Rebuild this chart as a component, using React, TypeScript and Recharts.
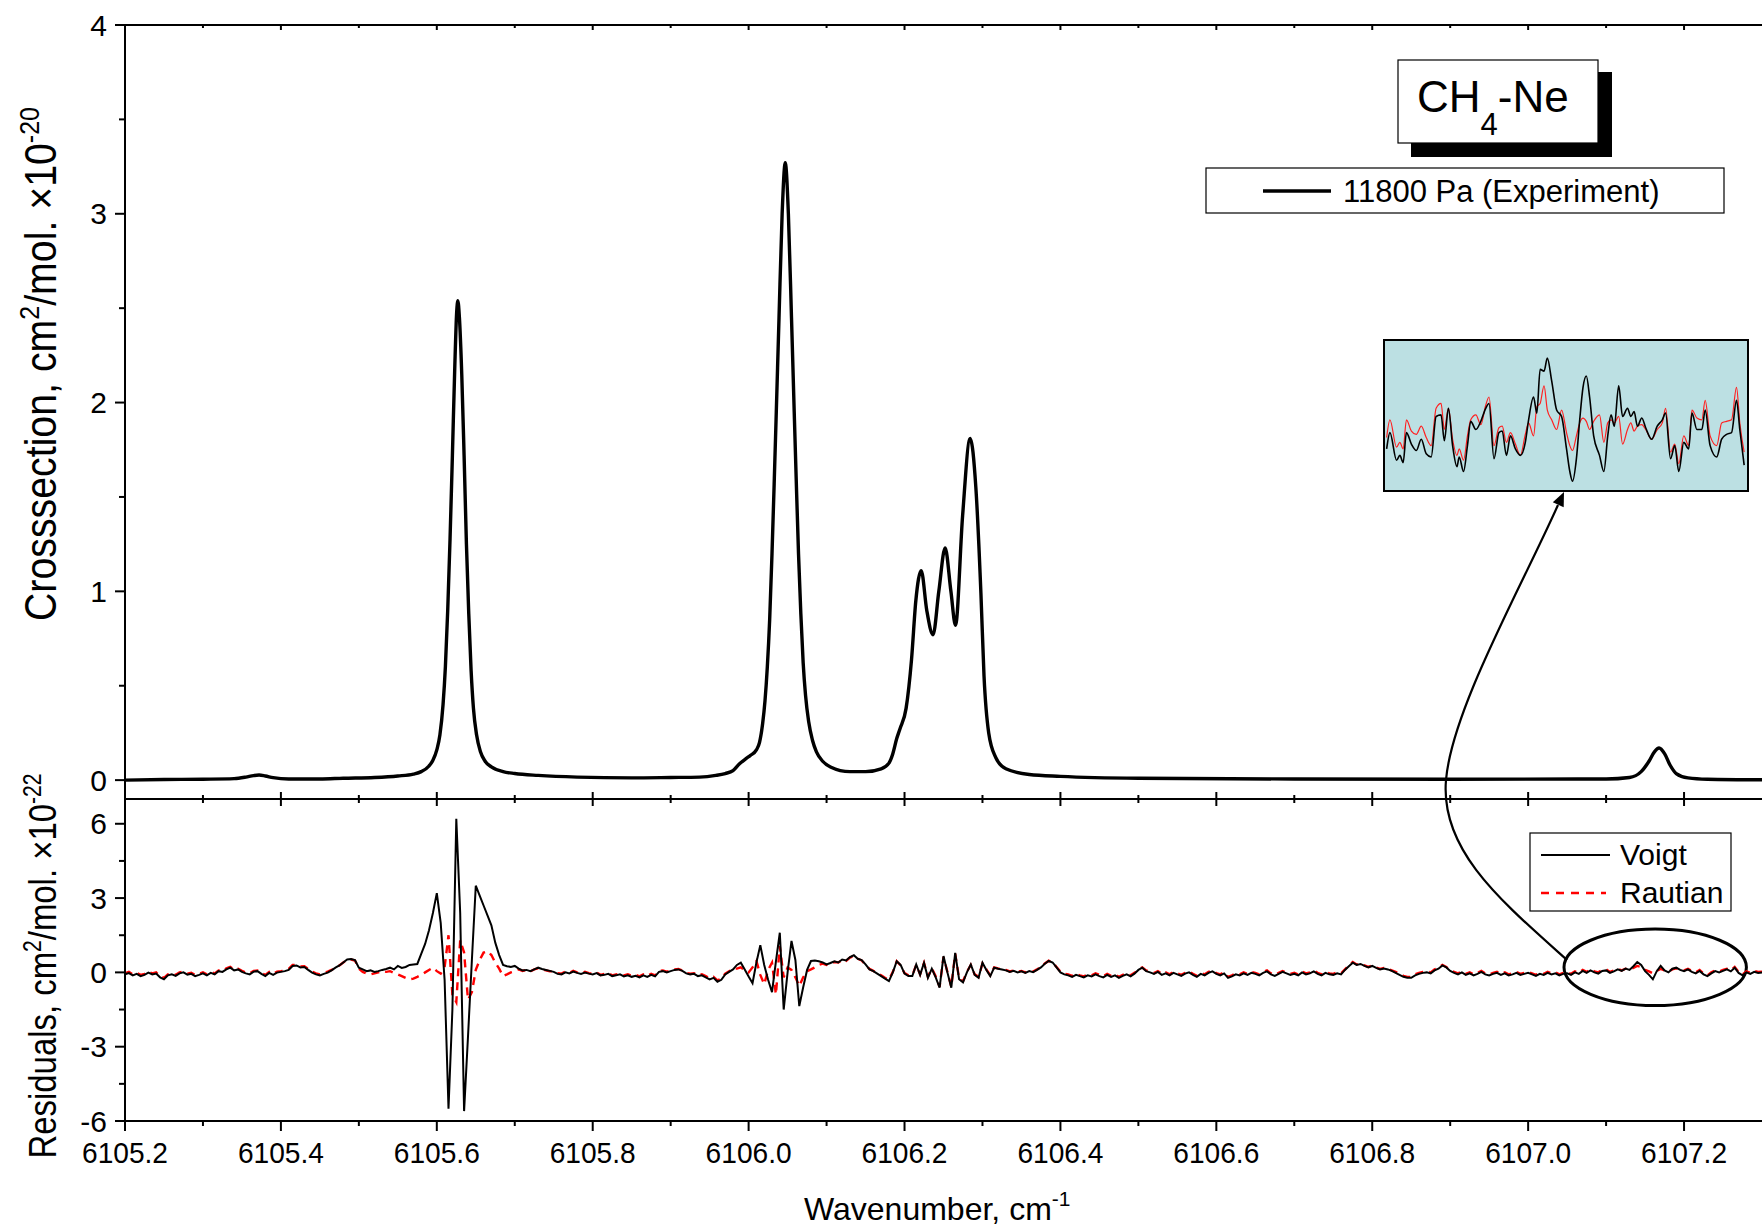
import React from 'react';
import { LineChart, Line, XAxis, YAxis, ReferenceArea } from 'recharts';

const FONT = '"Liberation Sans", Arial, Helvetica, sans-serif';

// ---------- axes ----------
const X_DOMAIN: [number, number] = [6105.2, 6107.3];
const X_TICKS = [6105.2, 6105.3, 6105.4, 6105.5, 6105.6, 6105.7, 6105.8, 6105.9, 6106.0, 6106.1, 6106.2, 6106.3, 6106.4, 6106.5, 6106.6, 6106.7, 6106.8, 6106.9, 6107.0, 6107.1, 6107.2];
const UPPER_Y_DOMAIN: [number, number] = [-0.1, 4];
const UPPER_Y_TICKS = [0, 0.5, 1, 1.5, 2, 2.5, 3, 3.5, 4];
const LOWER_Y_DOMAIN: [number, number] = [-6, 7];
const LOWER_Y_TICKS = [-6, -4.5, -3, -1.5, 0, 1.5, 3, 4.5, 6];

// ---------- upper panel: cross section (x1e-20 cm2/mol.) ----------
const spectrumWn = [
  6105.2, 6105.25, 6105.3, 6105.34, 6105.355, 6105.365, 6105.372, 6105.38, 6105.39, 6105.41,
  6105.45, 6105.48, 6105.52, 6105.55, 6105.57, 6105.58, 6105.59, 6105.595, 6105.6, 6105.604,
  6105.608, 6105.611, 6105.614, 6105.617, 6105.62, 6105.623, 6105.6255, 6105.627, 6105.629, 6105.632,
  6105.635, 6105.638, 6105.641, 6105.644, 6105.647, 6105.651, 6105.656, 6105.662, 6105.67, 6105.685,
  6105.7, 6105.73, 6105.78, 6105.85, 6105.9, 6105.937, 6105.958, 6105.97, 6105.98, 6105.988,
  6105.997, 6106.002, 6106.01, 6106.014, 6106.018, 6106.021, 6106.024, 6106.027, 6106.03, 6106.033,
  6106.0355, 6106.039, 6106.043, 6106.047, 6106.051, 6106.055, 6106.0585, 6106.061, 6106.064, 6106.067,
  6106.07, 6106.073, 6106.077, 6106.082, 6106.087, 6106.095, 6106.105, 6106.13, 6106.15, 6106.17,
  6106.18, 6106.185, 6106.19, 6106.194, 6106.202, 6106.209, 6106.2145, 6106.2214, 6106.2285, 6106.2366,
  6106.244, 6106.2521, 6106.2595, 6106.2654, 6106.2745, 6106.2842, 6106.2915, 6106.298, 6106.302, 6106.308,
  6106.317, 6106.33, 6106.36, 6106.4, 6106.5, 6106.7, 6106.9, 6107.1, 6107.13, 6107.145,
  6107.155, 6107.162, 6107.168, 6107.175, 6107.182, 6107.19, 6107.205, 6107.23, 6107.3,
];
const spectrumVal = [
  0.0, 0.003, 0.005, 0.008, 0.016, 0.024, 0.027, 0.022, 0.013, 0.006,
  0.006, 0.01, 0.014, 0.022, 0.032, 0.045, 0.075, 0.105, 0.16, 0.24,
  0.4, 0.6, 0.9, 1.28, 1.72, 2.18, 2.48, 2.54, 2.45, 2.15,
  1.72, 1.25, 0.88, 0.58, 0.38, 0.24, 0.15, 0.1, 0.07, 0.045,
  0.035, 0.025, 0.016, 0.012, 0.014, 0.016, 0.025, 0.035, 0.05, 0.085,
  0.115, 0.13, 0.16, 0.2, 0.3, 0.42, 0.6, 0.85, 1.2, 1.6,
  1.95, 2.45, 3.0, 3.27, 3.0, 2.45, 1.95, 1.6, 1.2, 0.88,
  0.62, 0.45, 0.31, 0.21, 0.15, 0.1, 0.07, 0.045, 0.045, 0.06,
  0.09, 0.14, 0.22, 0.27, 0.38, 0.64, 0.95, 1.11, 0.9, 0.77,
  1.0, 1.23, 1.0, 0.82, 1.4, 1.81, 1.55, 0.99, 0.55, 0.25,
  0.12, 0.06, 0.03, 0.02, 0.01, 0.006, 0.005, 0.006, 0.014, 0.045,
  0.1, 0.15, 0.17, 0.14, 0.08, 0.035, 0.012, 0.005, 0.002,
];

// ---------- lower panel: residuals (x1e-22), sampled every 0.005 cm-1 from 6105.200 ----------
const RES_START = 6105.2;
const RES_STEP = 0.005;
const voigtResidual = [
  -0.08, -0.03, -0.12, -0.06, -0.15, -0.10, -0.01, -0.08, -0.05, -0.20,
  -0.28, -0.12, -0.08, -0.14, -0.04, 0.00, -0.09, -0.06, -0.15, -0.10,
  -0.04, -0.12, -0.02, -0.08, 0.05, 0.02, 0.12, 0.19, 0.08, 0.12,
  0.02, -0.04, -0.08, 0.03, 0.05, -0.06, -0.15, -0.02, -0.10, -0.01,
  0.02, 0.05, 0.10, 0.26, 0.28, 0.20, 0.22, 0.10, -0.01, -0.08,
  -0.12, -0.06, -0.01, 0.08, 0.19, 0.28, 0.40, 0.52, 0.54, 0.50,
  0.19, 0.12, 0.05, 0.08, 0.02, 0.05, 0.10, 0.14, 0.19, 0.12,
  0.26, 0.18, 0.22, 0.30, 0.32, 0.34, 0.75, 1.15, 1.70, 2.40,
  3.20, 2.00, -0.30, -5.50, -1.50, 6.20, 2.40, -5.60, -2.60, 0.50,
  3.50, 3.10, 2.70, 2.30, 1.90, 1.20, 0.70, 0.30, 0.25, 0.22,
  0.26, 0.15, 0.08, 0.10, 0.05, 0.12, 0.19, 0.14, 0.10, 0.06,
  0.02, -0.06, -0.08, 0.00, -0.04, 0.03, -0.02, -0.06, -0.01, -0.05,
  -0.08, -0.03, -0.12, -0.10, -0.06, -0.15, -0.12, -0.08, -0.16, -0.12,
  -0.18, -0.14, -0.20, -0.12, -0.18, -0.10, -0.16, 0.02, 0.05, 0.00,
  0.05, 0.10, 0.12, 0.06, -0.04, -0.08, -0.06, -0.15, -0.12, -0.20,
  -0.28, -0.22, -0.38, -0.30, -0.08, 0.02, 0.12, 0.30, 0.39, 0.12,
  -0.17, -0.44, 0.40, 1.10, 0.30, -0.30, -0.80, 0.43, 1.60, -1.50,
  0.00, 1.27, 0.50, -1.36, -0.60, 0.10, 0.46, 0.48, 0.45, 0.40,
  0.32, 0.38, 0.45, 0.40, 0.52, 0.48, 0.62, 0.69, 0.55, 0.50,
  0.32, 0.12, 0.05, -0.05, -0.15, -0.25, -0.35, 0.00, 0.45, 0.30,
  -0.05, -0.15, -0.15, 0.32, -0.10, 0.39, -0.22, 0.15, -0.20, -0.62,
  0.66, 0.00, -0.62, 0.79, -0.28, -0.40, 0.00, 0.32, -0.10, -0.22,
  0.39, 0.10, -0.15, 0.19, 0.15, 0.12, 0.08, 0.02, 0.06, 0.00,
  0.04, -0.02, 0.05, 0.01, 0.10, 0.20, 0.35, 0.46, 0.40, 0.20,
  0.00, -0.08, -0.12, -0.18, -0.10, -0.15, -0.20, -0.12, -0.16, -0.08,
  -0.15, -0.20, -0.10, -0.18, -0.12, -0.22, -0.14, -0.08, -0.16, -0.05,
  0.10, 0.19, 0.05, 0.00, -0.06, 0.02, -0.10, -0.04, -0.12, -0.02,
  -0.08, -0.14, -0.05, 0.00, -0.10, -0.18, -0.06, -0.12, -0.02, 0.04,
  -0.06, -0.12, -0.04, -0.22, -0.16, -0.08, -0.12, -0.04, -0.10, -0.02,
  -0.06, -0.12, -0.02, 0.04, -0.08, -0.14, -0.06, 0.02, -0.04, -0.10,
  -0.06, -0.12, 0.00, -0.08, -0.04, 0.04, -0.06, -0.12, -0.02, -0.08,
  -0.10, -0.04, -0.08, 0.10, 0.25, 0.39, 0.30, 0.34, 0.26, 0.20,
  0.26, 0.18, 0.12, 0.16, 0.12, 0.06, -0.02, -0.10, -0.18, -0.22,
  -0.22, -0.12, -0.06, -0.02, 0.00, -0.04, 0.08, 0.15, 0.28, 0.20,
  0.06, -0.02, -0.08, 0.00, -0.10, -0.04, -0.12, -0.06, 0.02, -0.08,
  -0.12, -0.06, -0.02, -0.10, -0.04, -0.12, -0.08, -0.02, -0.10, -0.06,
  -0.02, -0.08, -0.14, -0.06, -0.10, -0.02, -0.08, -0.04, -0.12, -0.06,
  -0.04, -0.10, 0.00, -0.06, 0.06, -0.02, 0.08, 0.00, -0.05, 0.06,
  0.08, -0.02, 0.04, 0.12, 0.06, 0.15, 0.10, 0.25, 0.42, 0.30,
  0.05, -0.10, -0.28, 0.05, 0.26, 0.08, 0.00, 0.15, 0.19, 0.10,
  0.05, 0.12, 0.02, -0.04, 0.06, -0.08, -0.15, -0.04, 0.05, 0.00,
  0.06, 0.12, 0.04, 0.19, -0.02, -0.12, 0.00, -0.06, 0.02, -0.02,
  0.00,
];
const rautianResidual = [
  -0.04, 0.02, -0.08, -0.02, -0.10, -0.06, 0.03, -0.04, 0.00, -0.16,
  -0.22, -0.08, -0.04, -0.10, 0.00, 0.04, -0.05, -0.02, -0.10, -0.06,
  0.00, -0.08, 0.02, -0.04, 0.08, 0.06, 0.16, 0.22, 0.12, 0.15,
  0.06, 0.00, -0.04, 0.06, 0.08, -0.02, -0.10, 0.02, -0.06, 0.03,
  0.05, 0.08, 0.14, 0.30, 0.30, 0.24, 0.25, 0.14, 0.03, -0.04,
  -0.08, -0.02, 0.03, 0.10, 0.20, 0.28, 0.40, 0.50, 0.52, 0.48,
  0.15, 0.02, -0.05, -0.08, -0.04, 0.00, 0.05, 0.02, 0.05, -0.02,
  -0.08, -0.15, -0.22, -0.28, -0.25, -0.18, -0.10, 0.00, 0.10, 0.19,
  0.05, -0.05, 0.20, 1.50, -0.90, -1.20, 1.30, 0.80, -1.10, -0.80,
  0.10, 0.50, 0.80, 0.86, 0.70, 0.39, 0.15, -0.15, -0.08, 0.00,
  0.05, 0.12, 0.06, 0.10, 0.04, 0.12, 0.16, 0.12, 0.08, 0.04,
  0.04, -0.03, -0.05, 0.03, -0.02, 0.06, 0.00, -0.04, 0.02, -0.03,
  -0.05, 0.00, -0.10, -0.06, -0.03, -0.12, -0.08, -0.05, -0.12, -0.08,
  -0.14, -0.10, -0.16, -0.08, -0.14, -0.06, -0.12, 0.05, 0.08, 0.03,
  0.08, 0.12, 0.14, 0.08, -0.02, -0.05, -0.03, -0.12, -0.08, -0.15,
  -0.24, -0.18, -0.32, -0.25, -0.05, 0.05, 0.15, 0.15, 0.20, 0.10,
  0.00, 0.20, 0.46, -0.10, -0.48, 0.10, 0.39, -0.89, 1.06, -0.20,
  0.20, 0.10, -0.20, -0.55, -0.20, 0.05, 0.12, 0.20, 0.30, 0.35,
  0.30, 0.36, 0.42, 0.40, 0.50, 0.46, 0.60, 0.66, 0.55, 0.48,
  0.30, 0.14, 0.06, -0.03, -0.12, -0.22, -0.30, 0.02, 0.45, 0.28,
  -0.03, -0.12, -0.12, 0.30, -0.08, 0.38, -0.18, 0.16, -0.16, -0.58,
  0.62, 0.02, -0.58, 0.76, -0.25, -0.36, 0.02, 0.30, -0.08, -0.18,
  0.36, 0.12, -0.12, 0.20, 0.16, 0.14, 0.10, 0.04, 0.08, 0.03,
  0.06, 0.00, 0.07, 0.03, 0.12, 0.22, 0.36, 0.47, 0.40, 0.22,
  0.03, -0.05, -0.08, -0.14, -0.06, -0.12, -0.16, -0.08, -0.12, -0.04,
  -0.10, -0.16, -0.06, -0.14, -0.08, -0.18, -0.10, -0.04, -0.12, -0.02,
  0.12, 0.20, 0.08, 0.03, -0.03, 0.05, -0.06, 0.00, -0.08, 0.02,
  -0.04, -0.10, -0.02, 0.04, -0.06, -0.14, -0.02, -0.08, 0.02, 0.07,
  -0.03, -0.08, 0.00, -0.18, -0.12, -0.04, -0.08, 0.00, -0.06, 0.02,
  -0.02, -0.08, 0.02, 0.08, -0.04, -0.10, -0.02, 0.05, 0.00, -0.06,
  -0.02, -0.08, 0.04, -0.04, 0.00, 0.08, -0.02, -0.08, 0.02, -0.04,
  -0.06, 0.00, -0.04, 0.12, 0.28, 0.42, 0.32, 0.36, 0.28, 0.22,
  0.28, 0.20, 0.14, 0.18, 0.14, 0.08, 0.02, -0.06, -0.14, -0.18,
  -0.18, -0.08, -0.02, 0.02, 0.04, 0.00, 0.12, 0.18, 0.30, 0.22,
  0.08, 0.02, -0.04, 0.04, -0.06, 0.00, -0.08, -0.02, 0.06, -0.04,
  -0.08, -0.02, 0.02, -0.06, 0.00, -0.08, -0.04, 0.02, -0.06, -0.02,
  0.02, -0.04, -0.10, -0.02, -0.06, 0.02, -0.04, 0.00, -0.08, -0.02,
  0.00, -0.06, 0.04, -0.02, 0.10, 0.02, 0.12, 0.04, 0.00, 0.10,
  0.12, 0.02, 0.08, 0.14, 0.08, 0.15, 0.12, 0.18, 0.26, 0.22,
  0.10, 0.04, -0.04, 0.06, 0.14, 0.08, 0.04, 0.12, 0.16, 0.10,
  0.08, 0.14, 0.06, 0.00, 0.10, -0.04, -0.12, 0.00, 0.08, 0.04,
  0.10, 0.15, 0.08, 0.22, 0.02, -0.08, 0.04, -0.02, 0.06, 0.02,
  0.03,
];

// ---------- inset (magnified residuals inside the ellipse) ----------
const INSET_X_DOMAIN: [number, number] = [6107.05, 6107.2915];
const INSET_Y_DOMAIN: [number, number] = [-0.278, 0.488];
const insetWn = [
  6107.0511, 6107.0533, 6107.0577, 6107.0599, 6107.0621, 6107.0643, 6107.0676, 6107.0709, 6107.0742, 6107.0775,
  6107.0808, 6107.0841, 6107.0874, 6107.0896, 6107.0923, 6107.0951, 6107.098, 6107.0995, 6107.1024, 6107.105,
  6107.1072, 6107.1106, 6107.1139, 6107.1172, 6107.1194, 6107.1227, 6107.126, 6107.1282, 6107.131, 6107.1337,
  6107.137, 6107.1403, 6107.1436, 6107.1458, 6107.1491, 6107.1513, 6107.1535, 6107.1561, 6107.1583, 6107.1612,
  6107.1645, 6107.1678, 6107.1711, 6107.1733, 6107.1751, 6107.1777, 6107.1799, 6107.1821, 6107.1843, 6107.1865,
  6107.1892, 6107.1931, 6107.196, 6107.1986, 6107.2008, 6107.203, 6107.2059, 6107.2085, 6107.2118, 6107.214,
  6107.2162, 6107.2184, 6107.2213, 6107.2239, 6107.2279, 6107.2316, 6107.235, 6107.2372, 6107.2405, 6107.2433,
  6107.246, 6107.2493, 6107.2526, 6107.2548, 6107.2581, 6107.2614, 6107.2636, 6107.2669, 6107.2713, 6107.2746,
  6107.2779, 6107.2812, 6107.2845, 6107.2867, 6107.2896,
];
const insetVoigt = [
  -0.067, 0.017, -0.125, -0.1, -0.137, 0.017, -0.042, -0.075, -0.017, -0.092,
  -0.108, 0.1, 0.108, -0.025, 0.142, -0.05, -0.158, -0.108, -0.183, -0.05,
  0.075, 0.033, 0.075, 0.142, 0.167, -0.117, 0.017, 0.025, -0.1, 0.0,
  -0.067, -0.1, -0.033, 0.083, 0.2, 0.117, 0.342, 0.333, 0.4, 0.283,
  0.133, 0.1, -0.067, -0.183, -0.233, -0.117, 0.083, 0.25, 0.308, 0.2,
  0.0, -0.1, -0.183, 0.0, 0.108, 0.05, 0.258, 0.1, 0.142, 0.1,
  0.125, 0.05, 0.092, 0.042, -0.017, 0.05, 0.083, 0.117, -0.117, -0.05,
  -0.183, -0.033, -0.067, 0.117, 0.033, 0.033, 0.133, -0.05, -0.108, -0.017,
  0.008, 0.017, 0.183, 0.033, -0.15,
];
const insetRautian = [
  -0.008, 0.083, -0.058, -0.033, -0.067, 0.083, 0.025, 0.008, 0.05, -0.008,
  -0.05, 0.142, 0.167, 0.033, 0.142, -0.017, -0.1, -0.067, -0.125, 0.0,
  0.083, 0.108, 0.058, 0.158, 0.2, -0.05, 0.042, 0.05, -0.033, 0.017,
  -0.042, -0.1, 0.008, 0.067, 0.0, 0.15, 0.167, 0.258, 0.133, 0.083,
  0.033, 0.133, 0.017, -0.05, -0.075, 0.0, 0.067, 0.092, 0.075, 0.033,
  0.075, 0.108, -0.033, 0.067, 0.083, 0.067, 0.1, -0.042, 0.033, 0.067,
  0.025, 0.05, 0.058, 0.033, -0.017, 0.033, 0.067, 0.142, -0.083, -0.042,
  -0.142, 0.0, -0.05, 0.133, 0.092, 0.083, 0.183, 0.0, -0.05, 0.067,
  0.075, 0.083, 0.25, 0.067, -0.083,
];

// ---------- tables built from the arrays ----------
const spectrumData = spectrumWn.map((x, i) => ({ x, y: spectrumVal[i] }));
const residualData = voigtResidual.map((v, i) => ({
  x: Number((RES_START + i * RES_STEP).toFixed(3)),
  voigt: v,
  rautian: rautianResidual[i],
}));
const insetData = insetWn.map((x, i) => ({ x, voigt: insetVoigt[i], rautian: insetRautian[i] }));

// ---------- tick renderers ----------
const isMajorX = (v: number) => Math.round(v * 10) % 2 === 0;
const TICK_FS = 30;

const tickTopInward = (p: any) => (
  <line x1={p.x} x2={p.x} y1={p.y} y2={p.y + (isMajorX(p.payload.value) ? 5 : 3)} stroke="#000" strokeWidth={2} />
);
const tickMidDown = (p: any) => (
  <line x1={p.x} x2={p.x} y1={p.y} y2={p.y + (isMajorX(p.payload.value) ? 7 : 4)} stroke="#000" strokeWidth={2} />
);
const tickMidUp = (p: any) => (
  <line x1={p.x} x2={p.x} y1={p.y} y2={p.y - (isMajorX(p.payload.value) ? 7 : 4)} stroke="#000" strokeWidth={2} />
);
const tickBottom = (p: any) => {
  const v = p.payload.value as number;
  const major = isMajorX(v);
  return (
    <g>
      <line x1={p.x} x2={p.x} y1={p.y} y2={p.y + (major ? 10 : 5)} stroke="#000" strokeWidth={2} />
      {major && (
        <text x={p.x} y={p.y + 42} textAnchor="middle" fontSize={TICK_FS} fontFamily={FONT} fill="#000"
          textLength={86} lengthAdjust="spacingAndGlyphs">
          {v.toFixed(1)}
        </text>
      )}
    </g>
  );
};
const makeYTick = (isMajor: (v: number) => boolean) => (p: any) => {
  const v = p.payload.value as number;
  const major = isMajor(v);
  return (
    <g>
      <line x1={p.x - (major ? 10 : 6)} x2={p.x} y1={p.y} y2={p.y} stroke="#000" strokeWidth={2} />
      {major && (
        <text x={p.x - 18} y={p.y} textAnchor="end" dominantBaseline="central" fontSize={TICK_FS} fontFamily={FONT} fill="#000">
          {String(v)}
        </text>
      )}
    </g>
  );
};
const upperYTick = makeYTick((v) => Number.isInteger(v));
const lowerYTick = makeYTick((v) => Number.isInteger(v / 3));

const axisLine = { stroke: '#000', strokeWidth: 2 };

const ellipseShape = (p: any) => (
  <ellipse
    cx={p.x + p.width / 2}
    cy={p.y + p.height / 2}
    rx={p.width / 2}
    ry={p.height / 2}
    fill="none"
    stroke="#000"
    strokeWidth={3}
  />
);

function UpperPanel() {
  return (
    <LineChart width={1762} height={1230} data={spectrumData} margin={{ top: 24, right: 0, bottom: 430, left: 0 }}>
      <XAxis dataKey="x" type="number" domain={X_DOMAIN} ticks={X_TICKS} interval={0} allowDataOverflow height={1}
        tickSize={0} tickMargin={0} tickLine={false} axisLine={axisLine} tick={tickMidDown} />
      <XAxis xAxisId="top" orientation="top" dataKey="x" type="number" domain={X_DOMAIN} ticks={X_TICKS} interval={0}
        allowDataOverflow height={1} tickSize={0} tickMargin={0} tickLine={false} axisLine={axisLine} tick={tickTopInward} />
      <YAxis type="number" domain={UPPER_Y_DOMAIN} ticks={UPPER_Y_TICKS} interval={0} allowDataOverflow width={125}
        tickSize={0} tickMargin={0} tickLine={false} axisLine={axisLine} tick={upperYTick} />
      <Line dataKey="y" type="monotone" stroke="#000" strokeWidth={3.4} dot={false} activeDot={false} isAnimationActive={false} />
    </LineChart>
  );
}

function LowerPanel() {
  return (
    <LineChart width={1762} height={1230} data={residualData} margin={{ top: 798, right: 0, bottom: 108, left: 0 }}>
      <XAxis dataKey="x" type="number" domain={X_DOMAIN} ticks={X_TICKS} interval={0} allowDataOverflow height={1}
        tickSize={0} tickMargin={0} tickLine={false} axisLine={axisLine} tick={tickBottom} />
      <XAxis xAxisId="top" orientation="top" dataKey="x" type="number" domain={X_DOMAIN} ticks={X_TICKS} interval={0}
        allowDataOverflow height={1} tickSize={0} tickMargin={0} tickLine={false} axisLine={axisLine} tick={tickMidUp} />
      <YAxis type="number" domain={LOWER_Y_DOMAIN} ticks={LOWER_Y_TICKS} interval={0} allowDataOverflow width={125}
        tickSize={0} tickMargin={0} tickLine={false} axisLine={axisLine} tick={lowerYTick} />
      <Line dataKey="rautian" type="linear" stroke="#ff0000" strokeWidth={2.4} strokeDasharray="8 6" dot={false} activeDot={false} isAnimationActive={false} />
      <Line dataKey="voigt" type="linear" stroke="#000" strokeWidth={2} dot={false} activeDot={false} isAnimationActive={false} />
      <ReferenceArea x1={6107.046} x2={6107.28} y1={-1.34} y2={1.75} ifOverflow="visible" shape={ellipseShape} />
    </LineChart>
  );
}

function InsetPanel() {
  return (
    <LineChart width={362} height={149} data={insetData} margin={{ top: 0, right: 0, bottom: 0, left: 0 }}>
      <XAxis dataKey="x" type="number" domain={INSET_X_DOMAIN} hide allowDataOverflow />
      <YAxis type="number" domain={INSET_Y_DOMAIN} hide allowDataOverflow />
      <Line dataKey="rautian" type="monotone" stroke="#ff2020" strokeWidth={1.2} dot={false} activeDot={false} isAnimationActive={false} />
      <Line dataKey="voigt" type="monotone" stroke="#000" strokeWidth={1.6} dot={false} activeDot={false} isAnimationActive={false} />
    </LineChart>
  );
}

function Overlay() {
  return (
    <svg width={1762} height={1230} style={{ position: 'absolute', left: 0, top: 0, pointerEvents: 'none' }} fontFamily={FONT}>
      {/* axis titles */}
      <text transform="translate(56,364) rotate(-90)" textAnchor="middle" fontSize={44} fill="#000" textLength={514} lengthAdjust="spacingAndGlyphs">
        Crosssection, cm<tspan fontSize={28} dy={-17}>2</tspan><tspan dy={17}>/mol. ×10</tspan><tspan fontSize={28} dy={-17}>-20</tspan>
      </text>
      <text transform="translate(56,966) rotate(-90)" textAnchor="middle" fontSize={39} fill="#000" textLength={385} lengthAdjust="spacingAndGlyphs">
        Residuals, cm<tspan fontSize={25} dy={-15}>2</tspan><tspan dy={15}>/mol. ×10</tspan><tspan fontSize={25} dy={-15}>-22</tspan>
      </text>
      <text x={804} y={1220} fontSize={32} fill="#000">
        Wavenumber, cm<tspan fontSize={21} dy={-14}>-1</tspan>
      </text>

      {/* CH4-Ne label with shadow */}
      <rect x={1411} y={72} width={201} height={85} fill="#000" />
      <rect x={1398} y={60} width={200} height={83} fill="#fff" stroke="#000" strokeWidth={1.2} />
      <text x={1417} y={112} fontSize={44} fill="#000">
        CH<tspan fontSize={31} dy={23}>4</tspan><tspan dy={-23}>-Ne</tspan>
      </text>

      {/* experiment legend */}
      <rect x={1206} y={168} width={518} height={45} fill="#fff" stroke="#000" strokeWidth={1.2} />
      <line x1={1263} x2={1331} y1={191} y2={191} stroke="#000" strokeWidth={3.4} />
      <text x={1343} y={202} fontSize={31} fill="#000">11800 Pa (Experiment)</text>

      {/* residual legend */}
      <rect x={1530} y={833} width={201} height={78} fill="#fff" stroke="#000" strokeWidth={1.2} />
      <line x1={1541} x2={1610} y1={855} y2={855} stroke="#000" strokeWidth={2} />
      <text x={1620} y={865} fontSize={30} fill="#000">Voigt</text>
      <line x1={1541} x2={1606} y1={893} y2={893} stroke="#ff0000" strokeWidth={2.4} strokeDasharray="8 7" />
      <text x={1620} y={903} fontSize={30} fill="#000">Rautian</text>

      {/* arrow from ellipse to inset */}
      <path d="M1567,960 C1500,900 1440,850 1446,780 S1520,590 1558,505" fill="none" stroke="#000" strokeWidth={2.2} />
      <polygon points="1564,492 1563.7,507.2 1552.8,502.3" fill="#000" />
    </svg>
  );
}

export default function App() {
  return (
    <div style={{ position: 'absolute', left: 0, top: 0, width: 1762, height: 1230, background: '#fff', overflow: 'hidden', fontFamily: FONT }}>
      <div style={{ position: 'absolute', left: 0, top: 0 }}>
        <LowerPanel />
      </div>
      <div style={{ position: 'absolute', left: 0, top: 0 }}>
        <UpperPanel />
      </div>
      <div style={{ position: 'absolute', left: 1383, top: 339, width: 366, height: 153, boxSizing: 'border-box', border: '2px solid #000', background: '#bce0e3' }} />
      <div style={{ position: 'absolute', left: 1385, top: 341 }}>
        <InsetPanel />
      </div>
      <Overlay />
    </div>
  );
}
